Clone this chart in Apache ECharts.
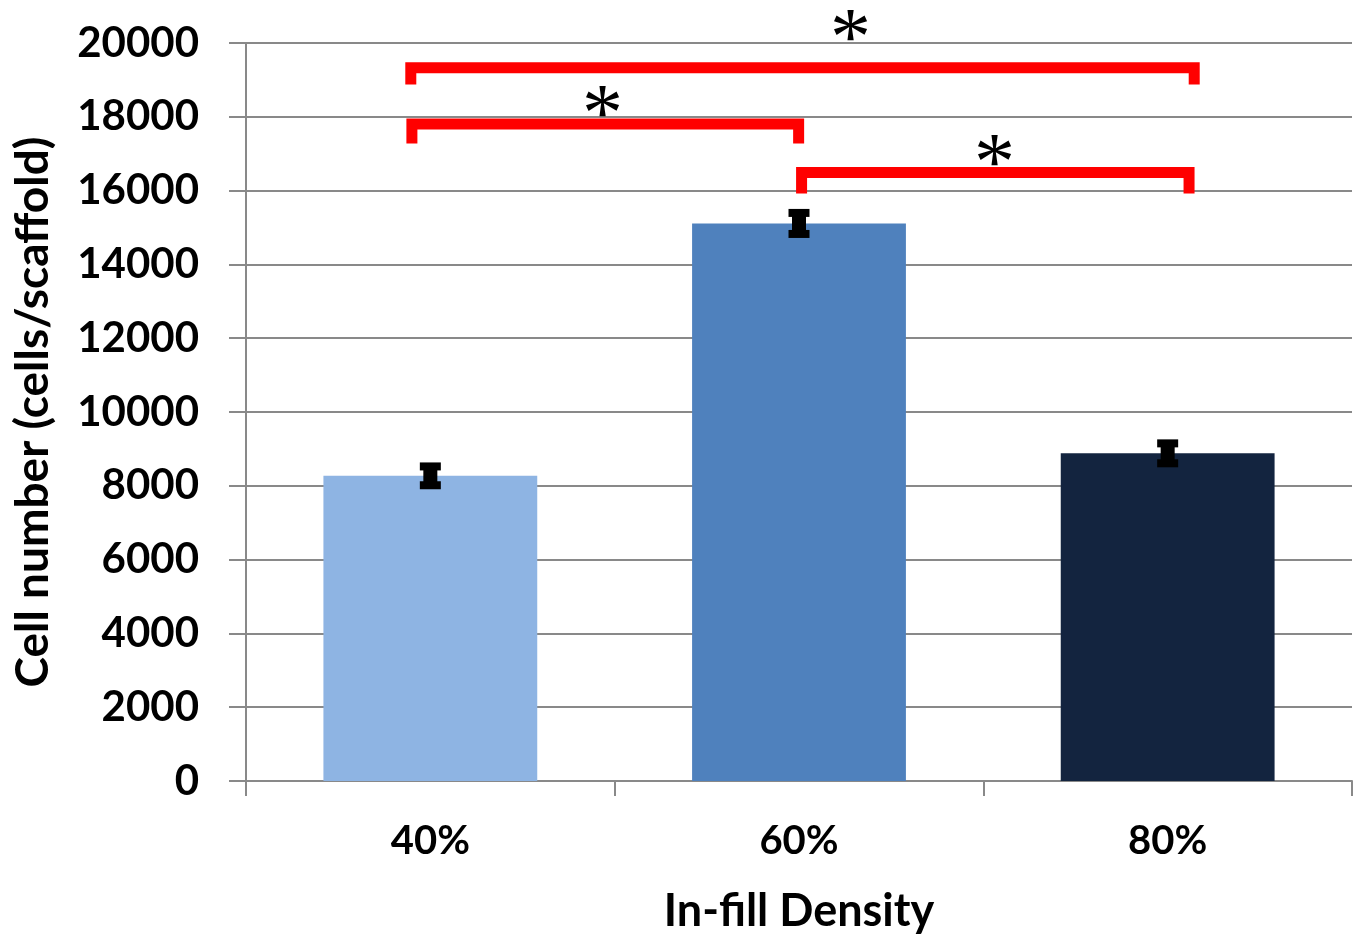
<!DOCTYPE html>
<html>
<head>
<meta charset="utf-8">
<script src="https://cdn.jsdelivr.net/npm/echarts@6/dist/echarts.min.js"></script>
<style>
  html, body { margin: 0; padding: 0; background: #fff; }
  #chart { width: 1365px; height: 939px; }
</style>
</head>
<body>
<div id="chart"></div>
<script>
// ---- data ----
const categories = ['40%', '60%', '80%'];
const cellCounts = [8270, 15110, 8880];
const cellErrors = [255, 285, 270];
const barColors = ['#8EB4E3', '#4F81BD', '#13243F'];

// significance brackets (x in category units: 0..3, y in cells/scaffold)
const bracketStartX = [0.447, 0.450, 1.507];
const bracketEndX   = [2.572, 1.499, 2.558];
const bracketTopY   = [19332, 17804, 16491];
const bracketFootY  = [18872, 17276, 15923];
const starX = [1.640, 0.967, 2.030];
const starY = [20460, 18400, 17070];
const starText = ['*', '*', '*'];

const yMin = 0, yMax = 20000, yStep = 2000;
const xAxisTitle = 'In-fill Density';
const yAxisTitle = 'Cell number (cells/scaffold)';

// ---- build ----
const FONT = 'Lato';
const GRID = '#898989';
const STAR_SIZE = 82;

const barData = cellCounts.map((v, i) => ({ value: v, itemStyle: { color: barColors[i] } }));
const errData = cellCounts.map((v, i) => [i, v - cellErrors[i], v + cellErrors[i]]);
const bracketData = bracketStartX.map((x, i) => [x, bracketEndX[i], bracketTopY[i], bracketFootY[i]]);
const starData = starX.map((x, i) => [x, starY[i], starText[i]]);

const chart = echarts.init(document.getElementById('chart'), null, { renderer: 'canvas' });
chart.setOption({
  animation: false,
  backgroundColor: '#ffffff',
  grid: { left: 246, right: 13, top: 43, bottom: 156, containLabel: false },
  xAxis: [
    {
      type: 'category',
      data: categories,
      name: xAxisTitle,
      nameLocation: 'middle',
      nameGap: 108,
      nameTextStyle: { fontFamily: FONT, fontWeight: 'bold', fontSize: 45, color: '#000' },
      axisLine: { show: true, lineStyle: { color: GRID, width: 2 } },
      axisTick: { show: true, alignWithLabel: false, length: 15, lineStyle: { color: GRID, width: 2 } },
      axisLabel: { fontFamily: FONT, fontWeight: 'bold', fontSize: 40, color: '#000', margin: 40 }
    },
    { type: 'value', min: 0, max: 3, show: false }
  ],
  yAxis: {
    type: 'value',
    min: yMin, max: yMax, interval: yStep,
    name: yAxisTitle,
    nameLocation: 'middle',
    nameGap: 190,
    nameRotate: 90,
    nameTextStyle: { fontFamily: FONT, fontWeight: 'bold', fontSize: 46, color: '#000' },
    axisLine: { show: true, lineStyle: { color: GRID, width: 2 } },
    axisTick: { show: true, length: 17, lineStyle: { color: GRID, width: 2 } },
    axisLabel: {
      fontFamily: FONT, fontWeight: 'bold', fontSize: 42, color: '#000', margin: 47,
      formatter: function (v) { return String(v); }
    },
    splitLine: { show: true, lineStyle: { color: GRID, width: 2 } }
  },
  series: [
    {
      type: 'bar',
      data: barData,
      barWidth: '58%',
      xAxisIndex: 0,
      z: 2
    },
    {
      type: 'custom',
      xAxisIndex: 0,
      data: errData,
      z: 5,
      renderItem: function (params, api) {
        const lo = api.coord([api.value(0), api.value(1)]);
        const hi = api.coord([api.value(0), api.value(2)]);
        const x = hi[0];
        const capW = 21, stemW = 14, capH = 8;
        return {
          type: 'group',
          children: [
            { type: 'rect', shape: { x: x - stemW / 2, y: hi[1], width: stemW, height: lo[1] - hi[1] }, style: { fill: '#000' } },
            { type: 'rect', shape: { x: x - capW / 2, y: hi[1] - capH / 2, width: capW, height: capH }, style: { fill: '#000' } },
            { type: 'rect', shape: { x: x - capW / 2, y: lo[1] - capH / 2, width: capW, height: capH }, style: { fill: '#000' } }
          ]
        };
      }
    },
    {
      type: 'custom',
      xAxisIndex: 1,
      data: bracketData,
      z: 6,
      renderItem: function (params, api) {
        const a = api.coord([api.value(0), api.value(3)]);
        const b = api.coord([api.value(0), api.value(2)]);
        const c = api.coord([api.value(1), api.value(2)]);
        const d = api.coord([api.value(1), api.value(3)]);
        return {
          type: 'polyline',
          shape: { points: [a, b, c, d] },
          style: { stroke: '#FF0000', lineWidth: 11, fill: null, lineJoin: 'miter', lineCap: 'butt' }
        };
      }
    },
    {
      type: 'custom',
      xAxisIndex: 1,
      data: starData,
      z: 7,
      renderItem: function (params, api) {
        const p = api.coord([api.value(0), api.value(1)]);
        return {
          type: 'text',
          x: p[0], y: p[1] + STAR_SIZE * 0.2,
          style: {
            text: starData[params.dataIndex][2],
            fontFamily: 'Liberation Serif',
            fontSize: STAR_SIZE,
            fill: '#000',
            align: 'center',
            verticalAlign: 'middle'
          }
        };
      }
    }
  ]
});
</script>
</body>
</html>
